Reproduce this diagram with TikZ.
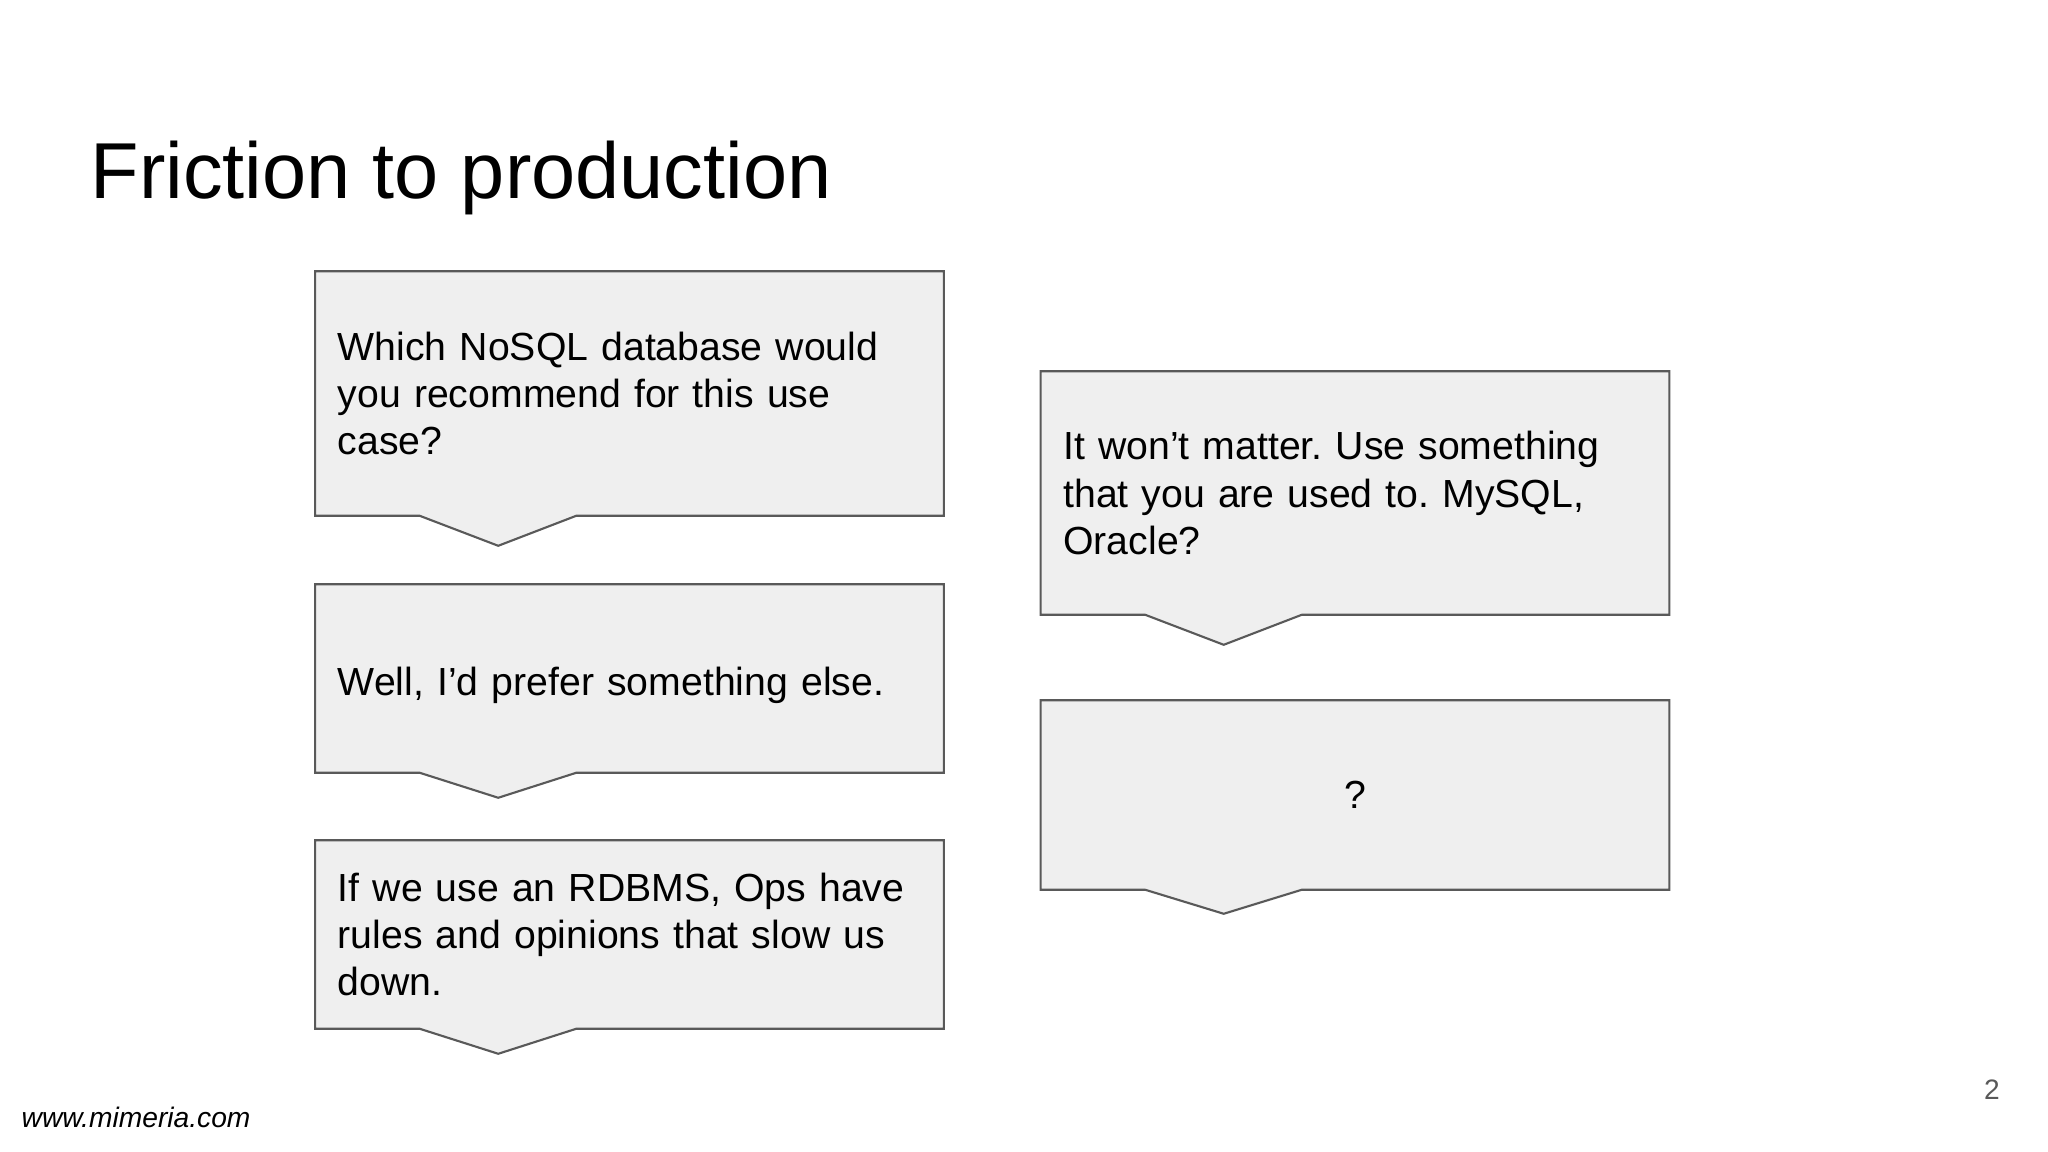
\documentclass[tikz,border=0pt]{standalone}
\usepackage{fontspec}
\setmainfont{Liberation Sans}
\usetikzlibrary{backgrounds}
\frenchspacing
\definecolor{boxfill}{HTML}{EFEFEF}
\definecolor{boxline}{HTML}{595959}
\definecolor{pagegray}{HTML}{595959}
\tikzset{
  bubble/.style={draw=none, fill=none, rectangle, inner xsep=0.22cm, inner ysep=0pt,
    text width=5.83cm, align=left, minimum width=6.27cm,
    font=\fontsize{11.15pt}{13.37pt}\selectfont},
  outline/.style={draw=boxline, fill=boxfill, line width=0.6pt, line join=miter},
}
\newcommand\mycallout[2]{%
  \draw[outline] (#1.north west) -- (#1.north east) -- (#1.south east)
    -- ([xshift=2.61cm]#1.south west) -- ([xshift=1.83cm,yshift=-#2]#1.south west)
    -- ([xshift=1.045cm]#1.south west) -- (#1.south west) -- cycle;}
\begin{document}
\begin{tikzpicture}[x=0.01cm,y=-0.01cm]
\useasboundingbox (0,0) rectangle (2048,1152);
\node[anchor=base west, inner sep=0pt, font=\fontsize{22.56pt}{27pt}\selectfont] (title) at (90,199) {Friction to production};
\node[bubble, minimum height=2.43cm] (b1) at (629.5,393.5) {Which NoSQL database would\\ you recommend for this use\\ case?};
\node[bubble, minimum height=1.87cm] (b2) at (629.5,678.5) {\raisebox{-0.165cm}[0pt][0pt]{Well, I’d prefer something else.}};
\node[bubble, minimum height=1.87cm] (b3) at (629.5,934.5) {If we use an RDBMS, Ops have\\ rules and opinions that slow us\\ down.};
\node[bubble, minimum height=2.42cm] (b4) at (1355,493) {It won’t matter. Use something\\ that you are used to. MySQL,\\ Oracle?};
\node[bubble, minimum height=1.88cm, align=center] (b5) at (1355,795) {?};
\begin{scope}[on background layer]
\fill[white] (0,0) rectangle (2048,1152);
\mycallout{b1}{0.30cm}
\mycallout{b2}{0.25cm}
\mycallout{b3}{0.25cm}
\mycallout{b4}{0.30cm}
\mycallout{b5}{0.24cm}
\end{scope}
\node[anchor=base west, inner sep=0pt, font=\fontsize{8.02pt}{10pt}\selectfont\itshape] (footer) at (21,1127) {www.mimeria.com};
\node[anchor=base, inner sep=0pt, text=pagegray, font=\fontsize{8pt}{10pt}\selectfont] (page) at (1992,1099) {2};
\end{tikzpicture}
\end{document}
